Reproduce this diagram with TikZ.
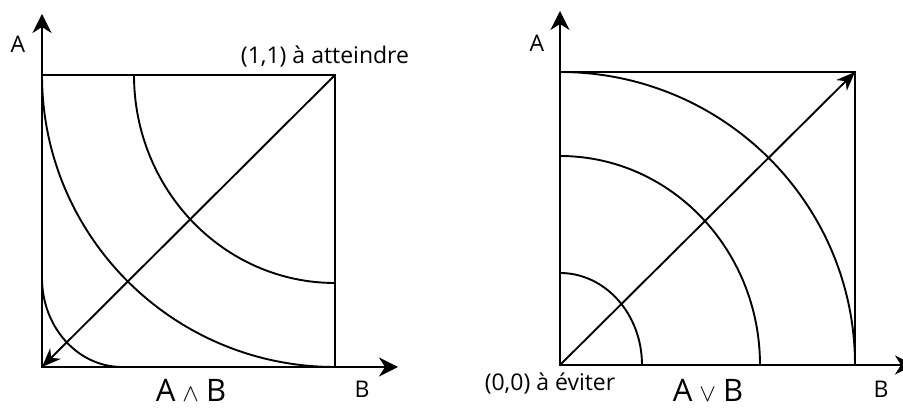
\documentclass[tikz,border=0pt]{standalone}
\usepackage{fontspec}
\setmainfont{Open Sans}
\usetikzlibrary{arrows.meta}

\begin{document}
\begin{tikzpicture}[x=1pt, y=1pt, line width=1.9pt,
    axis/.style={-{Stealth[length=19pt, width=19pt, inset=6pt]}},
    diag/.style={-{Stealth[length=19pt, width=15pt, inset=6pt]}},
    lbl/.style={font=\fontsize{23}{25}\selectfont, inner sep=0pt, anchor=base},
    big/.style={font=\fontsize{31}{33}\selectfont, inner sep=0pt, anchor=base}]
        \useasboundingbox (0, 0) rectangle (903, 409);
        % left square: A and B
        \coordinate (lo) at (42, 42);
        \coordinate (lt) at (335, 334);
        \draw[axis] (lo) -- (42, 395) coordinate (lya);
        \draw[axis] (lo) -- (398, 42) coordinate (lxa);
        \draw (lo) rectangle (lt);
        \draw (42, 334) arc[start angle=180, end angle=270,
        x radius=293, y radius=292];
        \draw (134, 334) arc[start angle=180, end angle=270,
        x radius=201, y radius=208];
        \draw (42, 131) arc[start angle=180, end angle=270,
        x radius=80, y radius=89];
        \draw[diag] (lt) -- (lo);
        \node[lbl] (la) at (18, 356) {A};
        \node[lbl] (lb) at (362, 11) {B};
        \node[lbl, anchor=base east] (goal) at (410, 345) {(1,1) à atteindre};
        \node[big] (and) at (191, 7) {A\hspace{7pt}{\fontsize{24}{24}\selectfont$\wedge$}\hspace{7pt}B};
        % right square: A or B
        \coordinate (ro) at (560, 44);
        \coordinate (rt) at (855, 337);
        \draw[axis] (ro) -- (560, 398) coordinate (rya);
        \draw[axis] (ro) -- (914, 44) coordinate (rxa);
        \draw (ro) rectangle (rt);
        \draw (855, 44) arc[start angle=0, end angle=90,
        x radius=295, y radius=293];
        \draw (760, 44) arc[start angle=0, end angle=90,
        x radius=200, y radius=209];
        \draw (642, 44) arc[start angle=0, end angle=90,
        x radius=82, y radius=92];
        \draw[diag] (ro) -- (rt);
        \node[lbl] (ra) at (537, 357) {A};
        \node[lbl] (rb) at (881, 11) {B};
        \node[lbl] (avoid) at (550, 18) {(0,0) à éviter};
        \node[big] (or) at (708, 7) {A\hspace{7pt}{\fontsize{24}{24}\selectfont$\vee$}\hspace{7pt}B};
      \end{tikzpicture}
\end{document}
